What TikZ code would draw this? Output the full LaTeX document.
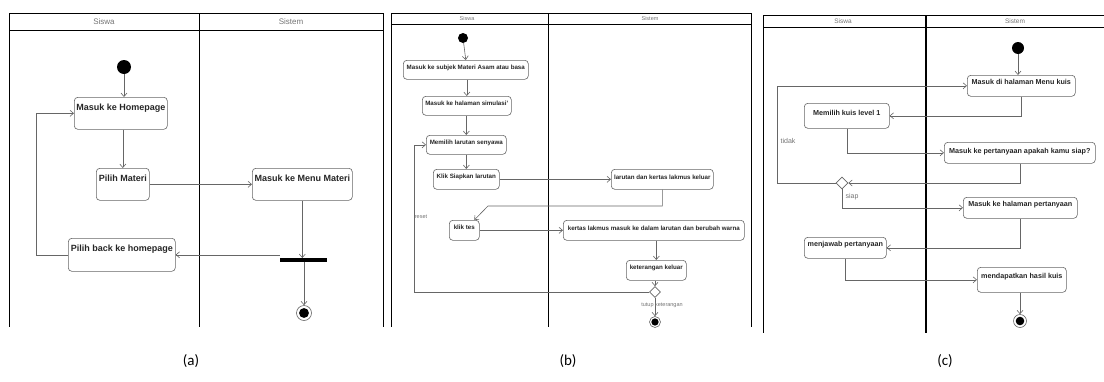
\documentclass[tikz,border=0pt]{standalone}
\usepackage{fontspec}
\setmainfont{Liberation Sans}
\newfontfamily\capfont{Carlito}
\usetikzlibrary{arrows.meta,shapes.geometric}
\begin{document}
\begin{tikzpicture}[x=1pt,y=-1pt,
  lane/.style={draw=black,line width=0.9pt},
  hdr/.style={text=black!55,inner sep=0pt},
  flow/.style={draw=black!60,line width=0.6pt,-{Straight Barb[length=3.5pt,width=6pt]}},
  act/.style={draw=black!60,line width=0.6pt,rounded corners=3.5pt,fill=white,
    inner xsep=0pt,inner ysep=0pt,anchor=north west,text=black!85},
  bx/.style n args={3}{act,minimum width=#1,text height=#2,text depth=#3},
  startn/.style={circle,fill=black,inner sep=0pt,minimum size=#1},
  endn/.style={circle,draw=black!60,line width=0.6pt,fill=white,inner sep=0pt,minimum size=#1,
    path picture={\fill[black] (path picture bounding box.center) circle[radius=0.33*#1];}},
  dec/.style={diamond,aspect=1,draw=black!60,line width=0.6pt,fill=white,inner sep=0pt,minimum size=#1},
  lbl/.style={text=black!55,inner sep=0pt},
  captxt/.style={font=\capfont\fontsize{15}{18}\selectfont,inner sep=0pt}
]
\useasboundingbox (0,0) rectangle (1104,381);

% ================= (a) =================
\draw[lane] (9,13) -- (383,13) (9,30) -- (383,30)
  (9,13) -- (9,327) (199,13) -- (199,327) (383,13) -- (383,327);
\begin{scope}[every node/.append style={font=\fontsize{8}{9}\selectfont}]
\node[hdr] (sa) at (104,22) {Siswa};
\node[hdr] (ta) at (291,22) {Sistem};
\end{scope}
\begin{scope}[every node/.append style={font=\bfseries\fontsize{9}{10}\selectfont}]
\node[startn=14] (s1) at (124,67) {};
\node[bx={93pt}{13.5pt}{18.5pt}] (hp) at (74,97) {Masuk ke Homepage};
\node[bx={53pt}{13.5pt}{18.5pt}] (pm) at (96,168) {Pilih Materi};
\node[bx={100pt}{13.5pt}{18.5pt}] (mm) at (252,168) {Masuk ke Menu Materi};
\node[bx={107pt}{13.5pt}{19.5pt}] (pb) at (68,238) {Pilih back ke homepage};
\end{scope}
\node[fill=black,minimum width=47pt,minimum height=3.5pt,inner sep=0pt] (bar) at (303.5,260) {};
\node[endn=15] (e1) at (304,313) {};
\draw[flow] (s1) -- (s1 |- hp.north);
\draw[flow] (pm.north |- hp.south) -- (pm.north);
\draw[flow] (pm.east) -- (mm.west);
\draw[flow] (mm.south) -- (mm.south |- bar.north);
\draw[flow] (bar.west |- pb.east) -- (pb.east);
\draw[flow] (bar.south -| e1) -- (e1.north);
\draw[flow] (pb.west) -- ++(-32,0) |- (hp.west);

% ================= (b) =================
\draw[lane] (391,13) -- (751,13) (391,24) -- (751,24)
  (391,13) -- (391,327) (548,13) -- (548,327) (751,13) -- (751,327);
\begin{scope}[every node/.append style={font=\fontsize{5.5}{6.5}\selectfont}]
\node[hdr] (sb) at (467,19) {Siswa};
\node[hdr] (tb) at (650,19) {Sistem};
\node[lbl] (rl) at (421,217) {reset};
\end{scope}
\begin{scope}[every node/.append style={font=\bfseries\fontsize{6.2}{7}\selectfont}]
\node[startn=10] (s2) at (463,38) {};
\node[bx={125pt}{9pt}{10pt}] (b1) at (403,60) {Masuk ke subjek Materi Asam atau basa};
\node[bx={89pt}{9pt}{10pt}] (b2) at (422,96) {Masuk ke halaman simulasi'};
\node[bx={80pt}{9.5pt}{9.5pt}] (b3) at (426,135) {Memilih larutan senyawa};
\node[bx={66pt}{9.5pt}{10.5pt}] (b4) at (433,169) {Klik Siapkan larutan};
\node[bx={102pt}{10pt}{10pt}] (b5) at (611,169) {larutan dan kertas lakmus keluar};
\node[bx={30pt}{9.5pt}{10.5pt}] (b6) at (449,220) {klik tes};
\node[bx={181pt}{10pt}{10pt}] (b7) at (563,220) {kertas lakmus masuk ke dalam larutan dan berubah warna};
\node[bx={60pt}{9.5pt}{10.5pt}] (b8) at (626,260) {keterangan keluar};
\end{scope}
\node[dec=11] (d2) at (655,292) {};
\node[endn=11] (e2) at (655,322) {};
\draw[flow] (s2) -- (b1.north);
\draw[flow] (b2.north |- b1.south) -- (b2.north);
\draw[flow] (b3.north |- b2.south) -- (b3.north);
\draw[flow] (b4.north |- b3.south) -- (b4.north);
\draw[flow] (b4.east) -- (b5.west);
\draw[flow] (b5.south) |- (488,206) -- ([xshift=10pt]b6.north);
\draw[flow] (b6.east) -- (b7.west);
\draw[flow] (b8.north |- b7.south) -- (b8.north);
\draw[flow] (d2.north |- b8.south) -- (d2.north);
\draw[flow] (d2.south) -- (e2.north);
\draw[flow] (d2.west) -- (414,292) |- (b3.west);
\node[lbl,font=\fontsize{5.5}{6.5}\selectfont] (tk) at (662,305) {tutup keterangan};

% ================= (c) =================
\draw[lane] (763,15) -- (1104,15) (763,27) -- (1104,27)
  (763,15) -- (763,333);
\draw[lane,line width=1.4pt] (926,15) -- (926,333);
\begin{scope}[every node/.append style={font=\fontsize{6.5}{7.5}\selectfont}]
\node[hdr] (sc) at (843,21) {Siswa};
\node[hdr] (tc) at (1015,21) {Sistem};
\end{scope}
\begin{scope}[every node/.append style={font=\fontsize{7}{8}\selectfont}]
\node[lbl] (tl) at (788,141) {tidak};
\node[lbl] (sl) at (852,197) {siap};
\end{scope}
\begin{scope}[every node/.append style={font=\bfseries\fontsize{7.2}{8}\selectfont}]
\node[startn=12] (s3) at (1018,48) {};
\node[bx={108pt}{9.6pt}{11.4pt}] (c1) at (967,75) {Masuk di halaman Menu kuis};
\node[bx={85pt}{12.6pt}{12.4pt}] (c2) at (804,103) {Memilih kuis level 1};
\node[bx={151pt}{11.6pt}{9.4pt}] (c3) at (944,142) {Masuk ke pertanyaan apakah kamu siap?};
\node[bx={114pt}{8.8pt}{12.2pt}] (c4) at (963,197) {Masuk ke halaman pertanyaan};
\node[bx={82pt}{8.8pt}{12.2pt}] (c5) at (804,237) {menjawab pertanyaan};
\node[bx={89pt}{11.6pt}{13.4pt}] (c6) at (977,267) {mendapatkan hasil kuis};
\end{scope}
\node[dec=12] (d3) at (842,183) {};
\node[endn=13] (e3) at (1020,321) {};
\draw[flow] (s3) -- (s3 |- c1.north);
\draw[flow] (c1.south) |- (c2.east);
\draw[flow] (c2.south) |- (c3.west);
\draw[flow] (c3.south) |- (d3.east);
\draw[flow] (d3.west) -- (777,183) |- (c1.west);
\draw[flow] (d3.south) |- (c4.west);
\draw[flow] (c4.south) |- (c5.east);
\draw[flow] (c5.south) |- (c6.west);
\draw[flow] (c6.south -| e3) -- (e3.north);

% ================= captions =================
\node[captxt] (ca) at (191,361) {(a)};
\node[captxt] (cb) at (568,361) {(b)};
\node[captxt] (cc) at (945,361) {(c)};
\end{tikzpicture}
\end{document}
